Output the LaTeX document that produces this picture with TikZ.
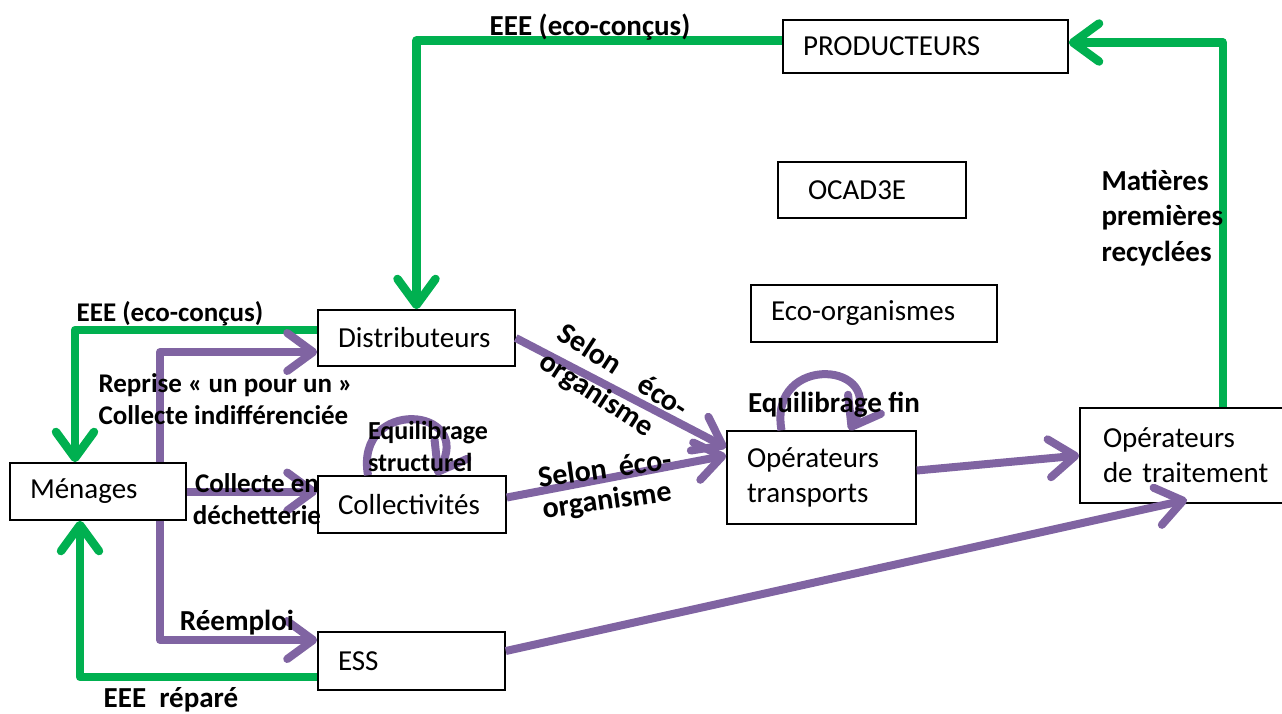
\documentclass[tikz,border=0pt]{standalone}
\usepackage{fontspec}
\setmainfont{Carlito}
\usetikzlibrary{arrows.meta}
\definecolor{flowgreen}{RGB}{0,176,80}
\definecolor{flowpurple}{RGB}{128,100,162}
\tikzset{
  box/.style={draw, line width=1.6pt, inner xsep=20pt, inner ysep=0pt, align=left,
    font=\fontsize{29}{35}\selectfont},
  lbl/.style={font=\bfseries\fontsize{29}{32}\selectfont},
  gflow/.style={draw=flowgreen, line width=8.5pt, line join=round,
    -{Straight Barb[length=26pt,width=38pt,round]}},
  pflow/.style={draw=flowpurple, line width=8pt, line join=round,
    -{Straight Barb[length=26pt,width=38pt,round]}}
}
\begin{document}
\begin{tikzpicture}[x=1pt,y=-1pt]
\useasboundingbox (0,0) rectangle (1282,713);
% boites
\node[box, text width=136pt, minimum height=57pt] (menages) at (98,491.5) {Ménages};
\node[box, text width=157pt, minimum height=56pt] (distrib) at (416.5,338) {Distributeurs};
\node[box, text width=148pt, minimum height=57pt] (coll) at (412,504.5) {Collectivités};
\node[box, text width=147pt, minimum height=58pt] (ess) at (411.5,661) {ESS};
\node[box, text width=149pt, minimum height=93pt] (transp) at (821.5,477.5) {Opérateurs\\transports};
\node[box, inner xsep=23pt, text width=180pt, minimum height=95pt] (trait) at (1193,455.5) {Opérateurs\\de traitement};
\node[box, text width=245pt, minimum height=53pt] (prod) at (925.5,46.5) {PRODUCTEURS};
\node[box, inner xsep=30pt, text width=128pt, minimum height=56pt] (ocad) at (872,190) {OCAD3E};
\node[box, text width=206pt, minimum height=57pt] (ecoorg) at (874,313.5) {Eco-organismes};
% flux verts
\draw[gflow] ([yshift=6pt]prod.west) -| (distrib.north);
\draw[gflow] ([xshift=-84pt]trait.north east) |- ([yshift=4pt]prod.east);
\draw[gflow] ([yshift=8pt]distrib.west) -| ([xshift=-23pt]menages.north);
\draw[gflow] ([yshift=-16pt]ess.west) -| ([xshift=-18pt]menages.south);
% flux violets
\draw[pflow] ([xshift=62pt]menages.north) |- ([yshift=-14pt]distrib.west);
\draw[pflow] (menages.east) -- (menages.east -| coll.west);
\draw[pflow] ([xshift=62pt]menages.south) |- ([yshift=21pt]ess.west);
\draw[pflow] (distrib.east) -- ([yshift=30pt]transp.west);
\draw[pflow] ([yshift=7pt]coll.east) -- ([yshift=22pt]transp.west);
\draw[pflow] ([yshift=7pt]transp.east) -- (trait.west);
\draw[pflow] ([yshift=10pt]ess.east) -- ([xshift=-6pt,yshift=4pt]trait.south);
\draw[pflow] ([xshift=-44pt]coll.north) to[out=100,in=60,looseness=3] ([xshift=24pt]coll.north);
\draw[pflow] ([xshift=-40pt]transp.north) to[out=100,in=60,looseness=3] ([xshift=28pt]transp.north);
% textes
\node[lbl] (eeetop) at (590,27) {EEE (eco-conçus)};
\node[lbl, font=\bfseries\fontsize{27}{32}\selectfont] (eeeleft) at (170,314) {EEE (eco-conçus)};
\node[lbl, anchor=west, align=left, font=\bfseries\fontsize{27}{32}\selectfont] (reprise) at (95,399) {Reprise « un pour un »\\Collecte indifférenciée};
\node[lbl, align=center, font=\bfseries\fontsize{27}{32}\selectfont] (dechet) at (257,499) {Collecte en\\déchetterie};
\node[lbl] (reemploi) at (237,623) {Réemploi};
\node[lbl] (repare) at (171,700) {EEE\ \ réparé};
\node[lbl, align=left, font=\bfseries\fontsize{26}{32}\selectfont] (eqstruct) at (428,446) {Equilibrage\\structurel};
\node[lbl] (eqfin) at (834,405) {Equilibrage fin};
\node[lbl, anchor=west, align=left, font=\bfseries\fontsize{29}{35.5}\selectfont] (matieres) at (1098,218) {Matières\\premières\\recyclées};
\node[lbl, align=left, text width=148pt, rotate=-33, font=\bfseries\fontsize{30}{34}\selectfont] (selon1) at (613,386) {Selon\hfill éco-\\organisme};
\node[lbl, align=left, text width=134pt, rotate=8, font=\bfseries\fontsize{30}{31}\selectfont] (selon2) at (607,486) {Selon\hfill éco-\\organisme};
\end{tikzpicture}
\end{document}
